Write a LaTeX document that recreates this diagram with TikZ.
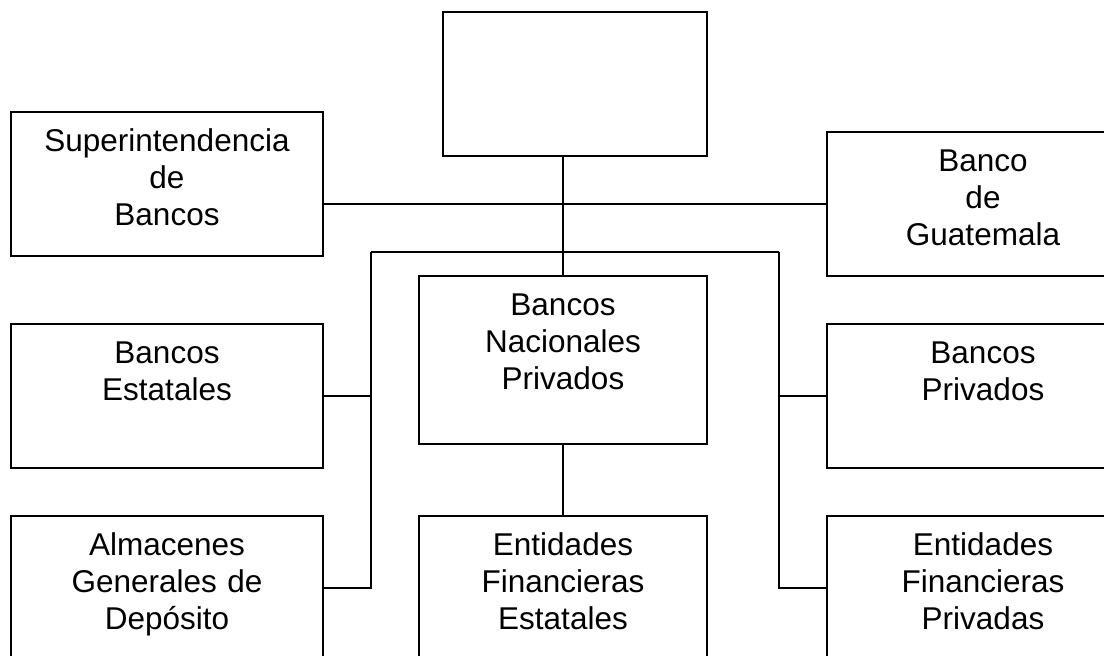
\documentclass[tikz,border=0pt]{standalone}
\usepackage{fontspec}
\setmainfont{Liberation Sans}

\begin{document}
\begin{tikzpicture}[x=1pt,y=-1pt,
    caja/.style={draw, line width=2pt, inner sep=0pt, minimum width=312pt, minimum height=144pt},
    texto/.style={text width=300pt, align=center, anchor=base, inner sep=0pt, font=\fontsize{31.5}{37}\selectfont},
    linea/.style={line width=2pt}]
            \useasboundingbox (0,0) rectangle (1104,656);
            \clip (0,0) rectangle (1104,656);

            % cajas
            \node[caja, minimum width=264pt] (junta) at (575,84) {};
            \node[caja] (sib) at (167,184) {};
            \node[caja] (banguat) at (983,204) {};
            \node[caja, minimum width=288pt, minimum height=168pt] (bnp) at (563,360) {};
            \node[caja] (bestat) at (167,396) {};
            \node[caja] (bpriv) at (983,396) {};
            \node[caja] (almac) at (167,588) {};
            \node[caja, minimum width=288pt] (efest) at (563,588) {};
            \node[caja] (efpriv) at (983,588) {};

            % textos
            \node[texto] (tsib) at ([yshift=-40pt]sib.north) {Superintendencia\\de\\Bancos};
            \node[texto] (tbanguat) at ([yshift=-40pt]banguat.north) {Banco\\de\\Guatemala};
            \node[texto] (tbnp) at ([yshift=-40pt]bnp.north) {Bancos\\Nacionales\\Privados};
            \node[texto] (tbestat) at ([yshift=-40pt]bestat.north) {Bancos\\Estatales};
            \node[texto] (tbpriv) at ([yshift=-40pt]bpriv.north) {Bancos\\Privados};
            \node[texto] (talmac) at ([yshift=-40pt]almac.north) {Almacenes\\Generales de\\Depósito};
            \node[texto] (tefest) at ([yshift=-40pt]efest.north) {Entidades\\Financieras\\Estatales};
            \node[texto] (tefpriv) at ([yshift=-40pt]efpriv.north) {Entidades\\Financieras\\Privadas};

            % lineas
            \coordinate (busizq) at (371,252);
            \coordinate (busder) at (779,252);
            \draw[linea] (bnp.north) -- (bnp.north |- junta.south);
            \draw[linea] (banguat.west) -- (banguat.west -| sib.east);
            \draw[linea] (busizq) -- (busder);
            \draw[linea] (busizq) |- (almac.east);
            \draw[linea] (bestat.east) -- (bestat.east -| busizq);
            \draw[linea] (busder) |- (efpriv.west);
            \draw[linea] (bpriv.west) -- (bpriv.west -| busder);
            \draw[linea] (bnp.south) -- (efest.north);
        \end{tikzpicture}
\end{document}
